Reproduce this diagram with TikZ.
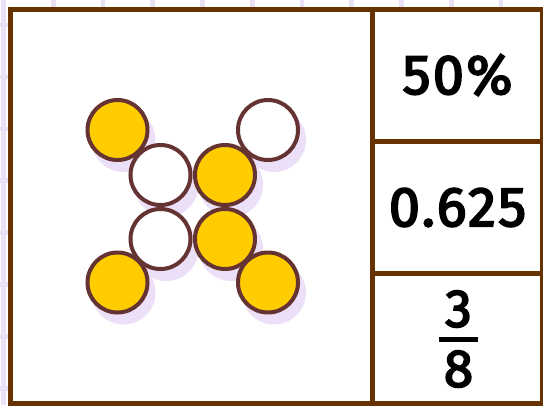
\documentclass[tikz,border=0pt]{standalone}
\usepackage{fontspec}
\setmainfont{Fira Sans}
\newfontfamily\valfont{Fira Sans}[LetterSpace=4, FakeBold=3.2]
\usepackage{xcolor}
\usetikzlibrary{positioning}

\definecolor{framebrown}{HTML}{663300}
\definecolor{beadline}{HTML}{663333}
\definecolor{beadyellow}{HTML}{FFCC00}
\definecolor{gridlav}{HTML}{EBE1F7}
\definecolor{shadowlav}{HTML}{EBE0F8}

\begin{document}
\begin{tikzpicture}[
    x=0.75pt, y=-0.75pt,
    gridline/.style={draw=gridlav, line width=3.4pt},
    frame/.style={draw=framebrown, line width=3.75pt},
    bead/.style={circle, draw=beadline, line width=3pt, minimum size=45pt, inner sep=0pt},
    val/.style={font=\valfont\fontsize{42}{46}\selectfont, inner sep=0pt}
  ]
    \useasboundingbox (0,0) rectangle (543,405);
    % background grid
    \foreach \gx in {0,...,10}
      \draw[gridline] ({3.5+49.75*\gx},0) -- ({3.5+49.75*\gx},405);
    \foreach \gy in {0,...,7}
      \draw[gridline] (0,{25+51.9*\gy}) -- (543,{25+51.9*\gy});
    % card
    \fill[white] (10,9.5) rectangle (542.5,403.5);
    \draw[frame] (10,9.5) rectangle (542.5,403.5);
    \draw[frame] (372.5,9.5) -- (372.5,403.5);
    \draw[frame] (372.5,141) -- (542.5,141);
    \draw[frame] (372.5,273.5) -- (542.5,273.5);
    % beads
    \foreach \bx/\by/\bf [count=\i] in {117.5/130/beadyellow, 268/130/white,
        160.5/175/white, 225/175/beadyellow, 160.5/239/white, 225/239/beadyellow,
        117.5/282.5/beadyellow, 268/282.5/beadyellow} {
      \fill[shadowlav] (\bx+6,\by+10) circle[radius=24pt];
      \node[bead, fill=\bf] (b\i) at (\bx,\by) {};
    }
    % values
    \node[val] (pct) at (457.5,75) {50\%};
    \node[val] (dec) at (457.5,207.5) {0.625};
    \node[val, font=\valfont\fontsize{40}{44}\selectfont] (num) at (458.5,309) {3};
    \node[val, font=\valfont\fontsize{40}{44}\selectfont] (den) at (458.5,369) {8};
    \draw[line width=3.75pt] (439,339.5) -- (478,339.5);
  \end{tikzpicture}
\end{document}
